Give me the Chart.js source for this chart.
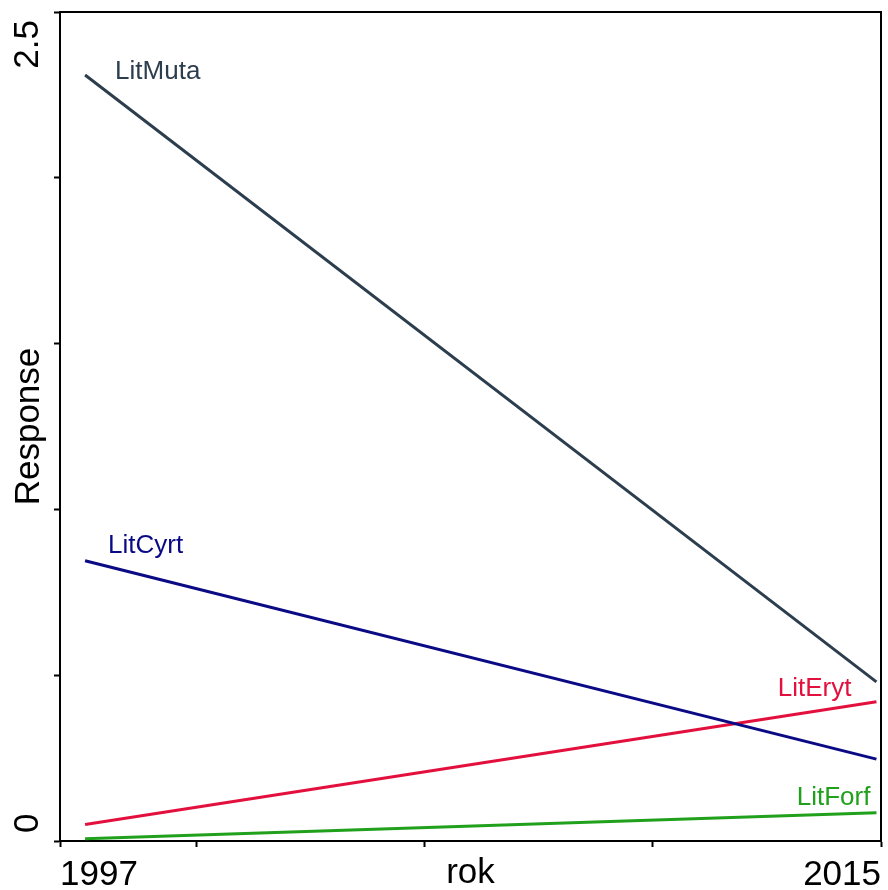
<!DOCTYPE html>
<html>
<head>
<meta charset="utf-8">
<script src="https://cdn.jsdelivr.net/npm/chart.js@4/dist/chart.umd.min.js"></script>
<style>
  html, body { margin: 0; padding: 0; background: #ffffff; }
  #wrap { width: 888px; height: 890px; position: relative; }
</style>
</head>
<body>
<div id="wrap"><canvas id="c" width="888" height="890"></canvas></div>
<script>
// ---- data ----
const years = [1997.55, 2014.9];
const seriesNames = ['LitMuta', 'LitCyrt', 'LitEryt', 'LitForf'];
const litMuta = [2.31, 0.48];
const litCyrt = [0.845, 0.247];
const litEryt = [0.05, 0.42];
const litForf = [0.007, 0.085];
const xTicks = [1997, 2000, 2005, 2010, 2015];
const xTickLabels = ['1997', '', '', '', '2015'];
const yTicks = [0, 0.5, 1, 1.5, 2, 2.5];
const yLabelValues = [0, 2.5];
const yLabelTexts = ['0', '2.5'];
const xTitle = 'rok';
const yTitle = 'Response';

// ---- styles ----
const colors = ['#2c3e4e', '#0a0a85', '#e3103e', '#21a01c'];
const labelStyle = [
  { end: 0, dx: 30, dy: 4, align: 'left' },
  { end: 0, dx: 23, dy: -8, align: 'left' },
  { end: 1, dx: -25, dy: -6, align: 'right' },
  { end: 1, dx: -6, dy: -8, align: 'right' }
];
const FONT = '"Liberation Sans", Arial, sans-serif';

const allSeries = [litMuta, litCyrt, litEryt, litForf];
const datasets = allSeries.map((vals, i) => ({
  label: seriesNames[i],
  data: years.map((x, j) => ({ x: x, y: vals[j] })),
  borderColor: colors[i],
  backgroundColor: colors[i],
  borderWidth: 3,
  pointRadius: 0,
  showLine: true,
  fill: false,
  tension: 0
}));

const decorPlugin = {
  id: 'decor',
  afterDraw(chart) {
    const ctx = chart.ctx;
    const a = chart.chartArea;
    const ys = chart.scales.y;
    ctx.save();
    // box top & right
    ctx.strokeStyle = '#000';
    ctx.lineWidth = 2;
    ctx.beginPath();
    ctx.moveTo(a.left, a.top);
    ctx.lineTo(a.right, a.top);
    ctx.lineTo(a.right, a.bottom);
    ctx.stroke();
    // y tick labels (rotated)
    ctx.fillStyle = '#000';
    ctx.font = '35px ' + FONT;
    ctx.textBaseline = 'middle';
    yLabelValues.forEach((v, i) => {
      const py = ys.getPixelForValue(v);
      const first = i === 0;
      ctx.save();
      ctx.translate(28, first ? py - 8 : py + 8);
      ctx.rotate(-Math.PI / 2);
      ctx.textAlign = first ? 'left' : 'right';
      ctx.fillText(yLabelTexts[i], 0, 0);
      ctx.restore();
    });
    // series labels
    ctx.font = '26px ' + FONT;
    ctx.textBaseline = 'alphabetic';
    chart.data.datasets.forEach((ds, i) => {
      const meta = chart.getDatasetMeta(i);
      const st = labelStyle[i];
      const pt = meta.data[st.end === 0 ? 0 : meta.data.length - 1];
      ctx.fillStyle = colors[i];
      ctx.textAlign = st.align;
      ctx.fillText(ds.label, pt.x + st.dx, pt.y + st.dy);
    });
    ctx.restore();
  }
};

new Chart(document.getElementById('c'), {
  type: 'scatter',
  data: { datasets },
  options: {
    responsive: false,
    animation: false,
    events: [],
    layout: { padding: { top: 12, right: 1, left: 0, bottom: 0 } },
    plugins: { legend: { display: false }, tooltip: { enabled: false } },
    scales: {
      x: {
        type: 'linear',
        min: 1997,
        max: 2015,
        afterBuildTicks(scale) { scale.ticks = xTicks.map(v => ({ value: v })); },
        afterFit(scale) { scale.height = 49; },
        ticks: {
          autoSkip: false,
          maxRotation: 0,
          minRotation: 0,
          align: 'inner',
          padding: 7,
          color: '#000',
          font: { family: FONT, size: 35 },
          callback(value, index) { return xTickLabels[index]; }
        },
        grid: { drawOnChartArea: false, drawTicks: true, tickLength: 6, tickWidth: 2, tickColor: '#000' },
        border: { display: true, color: '#000', width: 2 },
        title: {
          display: true,
          text: xTitle,
          color: '#000',
          font: { family: FONT, size: 35 },
          padding: { top: 0, bottom: -4 }
        }
      },
      y: {
        type: 'linear',
        min: 0,
        max: 2.5,
        afterBuildTicks(scale) { scale.ticks = yTicks.map(v => ({ value: v })); },
        afterFit(scale) { scale.width = 60; },
        ticks: { display: false },
        grid: { drawOnChartArea: false, drawTicks: true, tickLength: 6, tickWidth: 2, tickColor: '#000' },
        border: { display: true, color: '#000', width: 2 },
        title: {
          display: true,
          text: yTitle,
          color: '#000',
          font: { family: FONT, size: 35 },
          padding: { top: 8, bottom: 0 }
        }
      }
    }
  },
  plugins: [decorPlugin]
});
</script>
</body>
</html>
